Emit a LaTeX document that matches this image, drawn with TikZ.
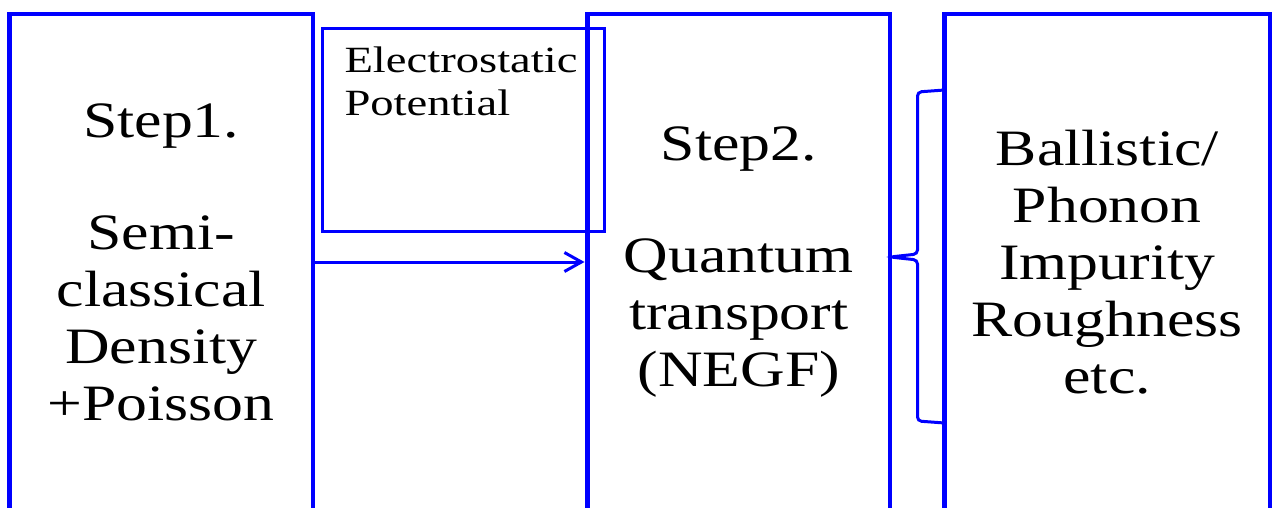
\documentclass[tikz,border=0pt]{standalone}
\usepackage{fontspec}
\setmainfont{Liberation Serif}
\newfontfamily\slidefont[FakeStretch=1.21]{Liberation Serif}
\newfontfamily\notefont[FakeStretch=1.26]{Liberation Serif}
\usetikzlibrary{arrows.meta,positioning}
\definecolor{pblue}{RGB}{0,0,255}
\tikzset{
  stage/.style={draw=pblue,line width=4.5pt,outer sep=0pt,inner sep=0pt,
    minimum width=#1,minimum height=496pt,align=center,
    font=\slidefont\fontsize{51}{57}\selectfont},
  note/.style={draw=pblue,line width=3pt,outer sep=0pt,inner xsep=22pt,inner ysep=18pt,
    font=\notefont\fontsize{37}{43}\selectfont},
  flow/.style={pblue,line width=3pt,-{Straight Barb[length=17pt,width=19pt]},shorten >=3pt},
  brk/.style={pblue,line width=3pt,rounded corners=4pt},
}

\begin{document}
\begin{tikzpicture}[x=1pt,y=-1pt]
  \useasboundingbox (0,0) rectangle (1274,508);

  \node[stage=303.5pt,anchor=north west] (s1) at (9.5,14)
    {Step1.\\[55pt]Semi-\\classical\\Density\\+Poisson};
  \node[note,anchor=north west] (pot) at (322.5,28.5)
    {\parbox[t][167pt][t]{238pt}{\raggedright Electrostatic\\Potential}};
  \node[stage=302.5pt,right=274.5pt of s1] (s2)
    {Step2.\\[55pt]Quantum\\transport\\(NEGF)};
  \node[stage=325.5pt,right=54.5pt of s2] (scat)
    {Ballistic/\\Phonon\\Impurity\\Roughness\\etc.};

  \draw[flow] (s1.east) -- (s2.west);
  % bracket from step 2 to the scattering box
  \draw[brk] (scat.west |- 0,90) -- (917.5,92) -- (917.5,254)
    -- ([yshift=5pt]s2.east) -- (917.5,260) -- (917.5,421) -- (scat.west |- 0,423);
\end{tikzpicture}
\end{document}
